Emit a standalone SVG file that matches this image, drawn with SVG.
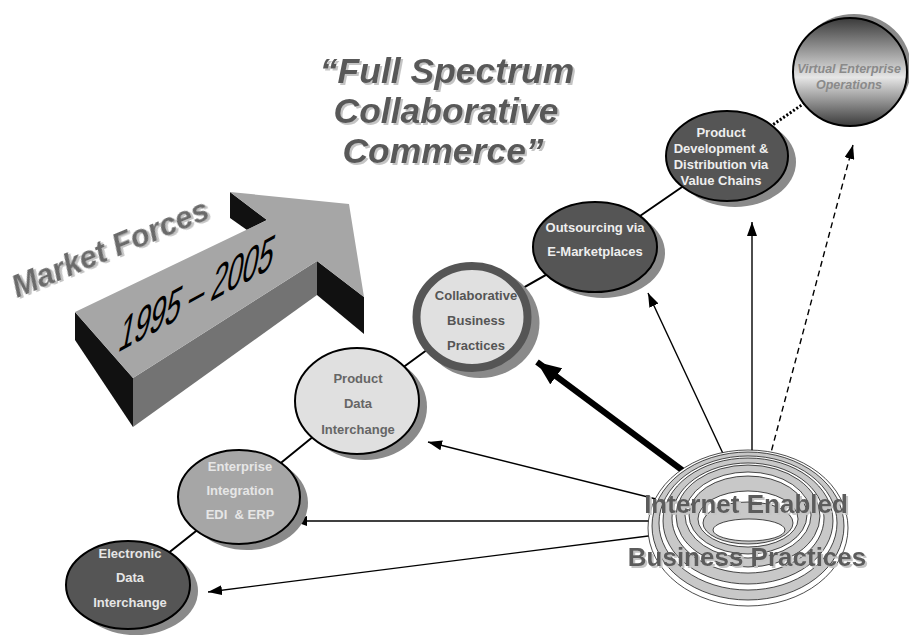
<svg xmlns="http://www.w3.org/2000/svg" width="909" height="640" viewBox="0 0 909 640">
<defs>
<style>
.t{font-family:"Liberation Sans",Arial,sans-serif;font-weight:bold;text-anchor:middle}
.n13{font-size:13px}
.shadow{fill:#8a8a8a}
.edge{stroke:#000;stroke-width:2;fill:none}
.arr{stroke:#000;stroke-width:1.4;fill:none}
.ring{stroke:#000;stroke-width:0.7}
</style>
<marker id="ah" markerUnits="userSpaceOnUse" markerWidth="14" markerHeight="10" refX="14" refY="5" orient="auto"><path d="M0,0 L14,5 L0,10 z" fill="#000"/></marker>
<marker id="ahb" markerUnits="userSpaceOnUse" markerWidth="24" markerHeight="20" refX="24" refY="10" orient="auto"><path d="M0,0 L24,10 L0,20 z" fill="#000"/></marker>
<linearGradient id="vg" x1="0" y1="0" x2="0" y2="1">
<stop offset="0" stop-color="#3a3a3a"/><stop offset="0.55" stop-color="#e6e6e6"/><stop offset="1" stop-color="#3a3a3a"/>
</linearGradient>
<filter id="ds" x="-10%" y="-20%" width="130%" height="150%"><feDropShadow dx="2" dy="2" stdDeviation="0.6" flood-color="#c4c4c4"/></filter>
</defs>
<rect width="909" height="640" fill="#fff"/>

<g id="market-arrow">
<polygon points="75,312 133,378 133,427 75,340" fill="#111"/>
<polygon points="133,378 317,261 317,295 133,427" fill="#737373"/>
<polygon points="317,261 364,297 364,334 317,295" fill="#111"/>
<polygon points="230,192 230,218 247,230 267,220" fill="#111"/>
<polygon points="75,312 267,220 230,192 349,204 364,297 317,261 133,378" fill="#a6a6a6"/>
<text transform="matrix(0.876,-0.482,-0.18,0.98,117,353)" font-family="Liberation Sans, Arial, sans-serif" font-size="52" textLength="176" lengthAdjust="spacingAndGlyphs" fill="#000">1995 – 2005</text>
</g>

<text transform="translate(17,298) rotate(-22.4)" font-family="Liberation Sans, Arial, sans-serif" font-size="31" font-weight="bold" font-style="italic" fill="#6b6b6b" filter="url(#ds)">Market Forces</text>

<g id="title" class="t" font-size="35.5" font-style="italic" fill="#595959" filter="url(#ds)">
<text x="447" y="83">“Full Spectrum</text>
<text x="446" y="123">Collaborative</text>
<text x="443" y="163">Commerce”</text>
</g>

<g id="connectors">
<polyline class="edge" points="128,585 239,497 357,401 472,317 595,247 727,156"/>
<line x1="727" y1="156" x2="850" y2="72" stroke="#000" stroke-width="3" stroke-dasharray="2 2"/>
<line class="arr" x1="660" y1="534.5" x2="208" y2="592" marker-end="url(#ah)"/>
<line class="arr" x1="660" y1="521" x2="293" y2="521" marker-end="url(#ah)"/>
<line class="arr" x1="660" y1="500" x2="428" y2="442" marker-end="url(#ah)"/>
<line x1="690" y1="476" x2="537" y2="362" stroke="#000" stroke-width="6" marker-end="url(#ahb)"/>
<line class="arr" x1="726" y1="460" x2="648" y2="293" marker-end="url(#ah)"/>
<line class="arr" x1="752" y1="460" x2="752" y2="222" marker-end="url(#ah)"/>
<line class="arr" x1="769" y1="460" x2="853" y2="145" stroke-width="1.1" stroke-dasharray="6 4" marker-end="url(#ah)"/>
</g>

<g id="n-edi">
<ellipse class="shadow" cx="136" cy="591" rx="62" ry="44"/>
<ellipse cx="128" cy="585" rx="62" ry="44" fill="#555" stroke="#000" stroke-width="2"/>
<text class="t n13" fill="#e6e6e6"><tspan x="130" y="558">Electronic</tspan><tspan x="130" y="582">Data</tspan><tspan x="130" y="607">Interchange</tspan></text>
</g>

<g id="n-enterprise">
<ellipse class="shadow" cx="247" cy="503" rx="61" ry="47"/>
<ellipse cx="239" cy="497" rx="61" ry="47" fill="#a6a6a6" stroke="#000" stroke-width="2"/>
<text class="t n13" fill="#e6e6e6"><tspan x="240" y="471">Enterprise</tspan><tspan x="240" y="495">Integration</tspan><tspan x="240" y="519" style="white-space:pre">EDI  &amp; ERP</tspan></text>
</g>

<g id="n-pdi">
<ellipse class="shadow" cx="365" cy="407" rx="62" ry="53"/>
<ellipse cx="357" cy="401" rx="62" ry="53" fill="#e0e0e0" stroke="#000" stroke-width="2"/>
<text class="t n13" fill="#666"><tspan x="358" y="383">Product</tspan><tspan x="358" y="408">Data</tspan><tspan x="358" y="434">Interchange</tspan></text>
</g>

<g id="n-collab">
<ellipse class="shadow" cx="480" cy="323" rx="59.5" ry="55"/>
<ellipse cx="472" cy="317" rx="55.5" ry="51" fill="#e0e0e0" stroke="#555" stroke-width="8"/>
<text class="t n13" fill="#555"><tspan x="476" y="300">Collaborative</tspan><tspan x="476" y="325">Business</tspan><tspan x="476" y="350">Practices</tspan></text>
</g>

<g id="n-outsourcing">
<ellipse class="shadow" cx="603" cy="253" rx="62" ry="45"/>
<ellipse cx="595" cy="247" rx="62" ry="45" fill="#555" stroke="#000" stroke-width="2"/>
<text class="t n13" fill="#eee"><tspan x="595" y="232">Outsourcing via</tspan><tspan x="595" y="256">E-Marketplaces</tspan></text>
</g>

<g id="n-proddev">
<ellipse class="shadow" cx="735" cy="162" rx="61" ry="45"/>
<ellipse cx="727" cy="156" rx="61" ry="45" fill="#555" stroke="#000" stroke-width="2"/>
<text class="t n13" fill="#eee"><tspan x="721" y="137">Product</tspan><tspan x="721" y="153">Development &amp;</tspan><tspan x="721" y="169">Distribution via</tspan><tspan x="721" y="185">Value Chains</tspan></text>
</g>

<g id="n-virtual">
<ellipse class="shadow" cx="854" cy="68" rx="57" ry="54"/>
<ellipse cx="850" cy="72" rx="57" ry="54" fill="url(#vg)" stroke="#000" stroke-width="2"/>
<text class="t" font-size="12.5" font-style="italic" fill="#8a8a8a"><tspan x="849" y="73">Virtual Enterprise</tspan><tspan x="849" y="89">Operations</tspan></text>
</g>

<g id="n-internet">
<ellipse class="ring" cx="748" cy="528" rx="100" ry="78" fill="#fff"/>
<ellipse class="ring" cx="748" cy="526" rx="96" ry="74" fill="#c8c8c8"/>
<ellipse class="ring" cx="748" cy="523" rx="89" ry="67" fill="#fff"/>
<ellipse class="ring" cx="748" cy="521" rx="85" ry="63" fill="#c8c8c8"/>
<ellipse class="ring" cx="748" cy="518" rx="76" ry="55" fill="#fff"/>
<ellipse class="ring" cx="748" cy="516" rx="72" ry="51" fill="#c8c8c8"/>
<ellipse class="ring" cx="748" cy="515" rx="63" ry="43" fill="#fff"/>
<ellipse class="ring" cx="748" cy="515" rx="59" ry="39" fill="#c8c8c8"/>
<ellipse class="ring" cx="748" cy="519" rx="50" ry="28" fill="#fff"/>
<ellipse class="ring" cx="748" cy="523" rx="45" ry="21" fill="#c8c8c8"/>
<ellipse class="ring" cx="749" cy="530" rx="36" ry="11" fill="#fff"/>
<text class="t" font-size="26" fill="#5c5c5c" filter="url(#ds)"><tspan x="746" y="513">Internet Enabled</tspan><tspan x="747" y="566">Business Practices</tspan></text>
</g>
</svg>
